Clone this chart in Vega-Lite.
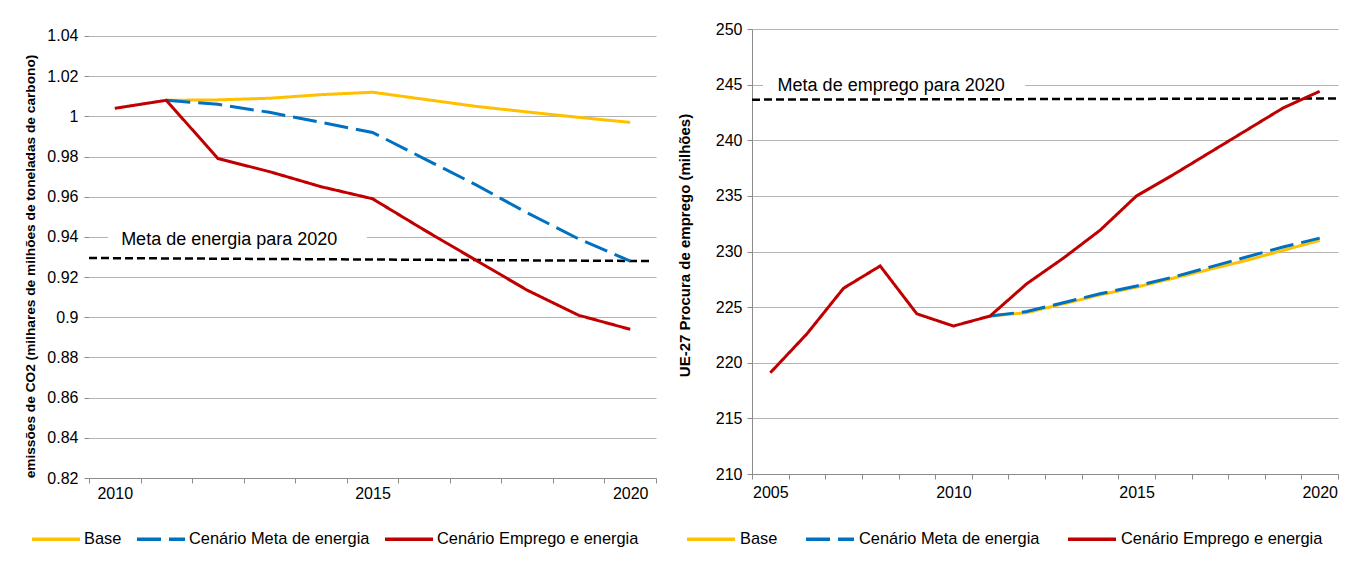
{
  "$schema": "https://vega.github.io/schema/vega-lite/v6.json",
  "background": "white",
  "padding": {"left": 22, "top": 21, "right": 5, "bottom": 5},
  "bounds": "flush",
  "spacing": 96,
  "resolve": {
    "scale": {"color": "independent", "strokeDash": "independent"},
    "legend": {"color": "independent", "strokeDash": "independent"}
  },
  "config": {
    "font": "Liberation Sans",
    "view": {"stroke": null},
    "axis": {
      "labelFont": "Liberation Sans",
      "labelFontSize": 16,
      "labelColor": "#000000",
      "gridColor": "#b3b3b3",
      "gridWidth": 1,
      "domainColor": "#8c8c8c",
      "tickColor": "#8c8c8c",
      "tickSize": 5,
      "titleFont": "Liberation Sans",
      "titleColor": "#000000",
      "labelOverlap": false
    },
    "axisX": {"labelOverlap": false, "labelFlush": false},
    "legend": {
      "labelFont": "Liberation Sans",
      "labelFontSize": 16.4,
      "labelColor": "#000000",
      "labelLimit": 0,
      "padding": 0,
      "offset": 0
    }
  },
  "datasets": {
    "left": [
      {"year": 2011, "serie": "Base", "value": 1.008},
      {"year": 2012, "serie": "Base", "value": 1.0082},
      {"year": 2013, "serie": "Base", "value": 1.009},
      {"year": 2014, "serie": "Base", "value": 1.0108},
      {"year": 2015, "serie": "Base", "value": 1.012},
      {"year": 2016, "serie": "Base", "value": 1.0085},
      {"year": 2017, "serie": "Base", "value": 1.005},
      {"year": 2018, "serie": "Base", "value": 1.0022},
      {"year": 2019, "serie": "Base", "value": 0.9995},
      {"year": 2020, "serie": "Base", "value": 0.997},
      {"year": 2011, "serie": "Cenário Meta de energia", "value": 1.008},
      {"year": 2012, "serie": "Cenário Meta de energia", "value": 1.006},
      {"year": 2013, "serie": "Cenário Meta de energia", "value": 1.002},
      {"year": 2014, "serie": "Cenário Meta de energia", "value": 0.997},
      {"year": 2015, "serie": "Cenário Meta de energia", "value": 0.992},
      {"year": 2016, "serie": "Cenário Meta de energia", "value": 0.979},
      {"year": 2017, "serie": "Cenário Meta de energia", "value": 0.966},
      {"year": 2018, "serie": "Cenário Meta de energia", "value": 0.952},
      {"year": 2019, "serie": "Cenário Meta de energia", "value": 0.939},
      {"year": 2020, "serie": "Cenário Meta de energia", "value": 0.928},
      {"year": 2010, "serie": "Cenário Emprego e energia", "value": 1.004},
      {"year": 2011, "serie": "Cenário Emprego e energia", "value": 1.008},
      {"year": 2012, "serie": "Cenário Emprego e energia", "value": 0.979},
      {"year": 2013, "serie": "Cenário Emprego e energia", "value": 0.9725},
      {"year": 2014, "serie": "Cenário Emprego e energia", "value": 0.965},
      {"year": 2015, "serie": "Cenário Emprego e energia", "value": 0.959},
      {"year": 2016, "serie": "Cenário Emprego e energia", "value": 0.9435},
      {"year": 2017, "serie": "Cenário Emprego e energia", "value": 0.9285},
      {"year": 2018, "serie": "Cenário Emprego e energia", "value": 0.9135},
      {"year": 2019, "serie": "Cenário Emprego e energia", "value": 0.901},
      {"year": 2020, "serie": "Cenário Emprego e energia", "value": 0.894}
    ],
    "leftTarget": [
      {"year": 2009.5, "value": 0.9295},
      {"year": 2020.4, "value": 0.928}
    ],
    "right": [
      {"year": 2011, "serie": "Base", "value": 224.2},
      {"year": 2012, "serie": "Base", "value": 224.5},
      {"year": 2013, "serie": "Base", "value": 225.3},
      {"year": 2014, "serie": "Base", "value": 226.1},
      {"year": 2015, "serie": "Base", "value": 226.8},
      {"year": 2016, "serie": "Base", "value": 227.6},
      {"year": 2017, "serie": "Base", "value": 228.4},
      {"year": 2018, "serie": "Base", "value": 229.2},
      {"year": 2019, "serie": "Base", "value": 230.1},
      {"year": 2020, "serie": "Base", "value": 231.0},
      {"year": 2011, "serie": "Cenário Meta de energia", "value": 224.2},
      {"year": 2012, "serie": "Cenário Meta de energia", "value": 224.6},
      {"year": 2013, "serie": "Cenário Meta de energia", "value": 225.4},
      {"year": 2014, "serie": "Cenário Meta de energia", "value": 226.2},
      {"year": 2015, "serie": "Cenário Meta de energia", "value": 226.9},
      {"year": 2016, "serie": "Cenário Meta de energia", "value": 227.7},
      {"year": 2017, "serie": "Cenário Meta de energia", "value": 228.6},
      {"year": 2018, "serie": "Cenário Meta de energia", "value": 229.5},
      {"year": 2019, "serie": "Cenário Meta de energia", "value": 230.4},
      {"year": 2020, "serie": "Cenário Meta de energia", "value": 231.2},
      {"year": 2005, "serie": "Cenário Emprego e energia", "value": 219.1},
      {"year": 2006, "serie": "Cenário Emprego e energia", "value": 222.6},
      {"year": 2007, "serie": "Cenário Emprego e energia", "value": 226.7},
      {"year": 2008, "serie": "Cenário Emprego e energia", "value": 228.7},
      {"year": 2009, "serie": "Cenário Emprego e energia", "value": 224.4},
      {"year": 2010, "serie": "Cenário Emprego e energia", "value": 223.3},
      {"year": 2011, "serie": "Cenário Emprego e energia", "value": 224.2},
      {"year": 2012, "serie": "Cenário Emprego e energia", "value": 227.1},
      {"year": 2013, "serie": "Cenário Emprego e energia", "value": 229.4},
      {"year": 2014, "serie": "Cenário Emprego e energia", "value": 231.9},
      {"year": 2015, "serie": "Cenário Emprego e energia", "value": 235.0},
      {"year": 2016, "serie": "Cenário Emprego e energia", "value": 236.9},
      {"year": 2017, "serie": "Cenário Emprego e energia", "value": 238.9},
      {"year": 2018, "serie": "Cenário Emprego e energia", "value": 240.9},
      {"year": 2019, "serie": "Cenário Emprego e energia", "value": 242.9},
      {"year": 2020, "serie": "Cenário Emprego e energia", "value": 244.4}
    ],
    "rightTarget": [
      {"year": 2004.5, "value": 243.65},
      {"year": 2020.45, "value": 243.75}
    ]
  },
  "hconcat": [
    {
      "width": 567,
      "height": 449,
      "layer": [
        {
          "data": {"name": "leftTarget"},
          "mark": {"type": "line", "color": "#000000", "strokeDash": [8, 4], "strokeWidth": 2.5},
          "encoding": {
            "x": {"field": "year", "type": "quantitative"},
            "y": {"field": "value", "type": "quantitative"}
          }
        },
        {
          "data": {"name": "left"},
          "mark": {"type": "line", "strokeWidth": 3},
          "encoding": {
            "x": {
              "field": "year", "type": "quantitative",
              "scale": {"domain": [2009.5, 2020.5], "nice": false, "zero": false},
              "axis": {
                "title": null, "grid": false, "tickCount": 30,
                "values": [2009.5, 2010.5, 2011.5, 2012.5, 2013.5, 2014.5, 2015.5, 2016.5, 2017.5, 2018.5, 2019.5, 2020.5],
                "labelExpr": "datum.value == 2009.5 ? '2010' : datum.value == 2014.5 ? '2015' : datum.value == 2019.5 ? '2020' : ''",
                "labelOffset": 25.77, "labelFlush": false, "labelOverlap": false, "labelPadding": 2
              }
            },
            "y": {
              "field": "value", "type": "quantitative",
              "scale": {"domain": [0.82, 1.04348], "nice": false, "zero": false},
              "axis": {
                "values": [0.82, 0.84, 0.86, 0.88, 0.9, 0.92, 0.94, 0.96, 0.98, 1, 1.02, 1.04],
                "tickCount": 30,
                "format": ".2~f", "grid": true, "domain": false, "labelPadding": 6,
                "title": "emissões de CO2 (milhares de milhões de toneladas de carbono)",
                "titleFontSize": 13.7, "titleFontWeight": "bold",
                "titleX": -59, "titleY": 237, "titleAngle": 270, "titleBaseline": "middle", "titleAlign": "center"
              }
            },
            "color": {
              "field": "serie", "type": "nominal",
              "scale": {"domain": ["Base", "Cenário Meta de energia", "Cenário Emprego e energia"], "range": ["#ffc000", "#0070c0", "#c00000"]},
              "legend": {"orient": "none", "legendX": -59, "legendY": 484, "direction": "horizontal", "title": null, "symbolType": "stroke", "symbolSize": 2304, "symbolStrokeWidth": 3.5, "columnPadding": 8, "labelOffset": 2, "labelLimit": 0}
            },
            "strokeDash": {
              "field": "serie", "type": "nominal",
              "scale": {"domain": ["Base", "Cenário Meta de energia", "Cenário Emprego e energia"], "range": [[1, 0], [24, 8], [1, 0]]},
              "legend": {"orient": "none", "legendX": -59, "legendY": 484, "direction": "horizontal", "title": null, "symbolType": "stroke", "symbolSize": 2304, "symbolStrokeWidth": 3.5, "columnPadding": 8, "labelOffset": 2, "labelLimit": 0}
            }
          }
        },
        {
          "mark": {"type": "rule", "color": "#8c8c8c", "strokeWidth": 1},
          "encoding": {
            "x": {"datum": 2009.5, "type": "quantitative"},
            "y": {"datum": 0.82, "type": "quantitative"},
            "y2": {"datum": 1.04}
          }
        },
        {
          "data": {"values": [{}]},
          "mark": {"type": "rect", "color": "white"},
          "encoding": {
            "x": {"datum": 2009.87, "type": "quantitative"},
            "x2": {"datum": 2014.89},
            "y": {"datum": 0.9375, "type": "quantitative"},
            "y2": {"datum": 0.9425}
          }
        },
        {
          "data": {"values": [{}]},
          "mark": {"type": "text", "fontSize": 18, "font": "Liberation Sans", "color": "#000000", "align": "center", "baseline": "middle"},
          "encoding": {
            "x": {"datum": 2012.22, "type": "quantitative"},
            "y": {"datum": 0.9387, "type": "quantitative"},
            "text": {"value": "Meta de energia para 2020"}
          }
        }
      ]
    },
    {
      "width": 586,
      "height": 445,
      "layer": [
        {
          "data": {"name": "rightTarget"},
          "mark": {"type": "line", "color": "#000000", "strokeDash": [8, 4], "strokeWidth": 2.5},
          "encoding": {
            "x": {"field": "year", "type": "quantitative"},
            "y": {"field": "value", "type": "quantitative"}
          }
        },
        {
          "data": {"name": "right"},
          "mark": {"type": "line", "strokeWidth": 3},
          "encoding": {
            "x": {
              "field": "year", "type": "quantitative",
              "scale": {"domain": [2004.5, 2020.5], "nice": false, "zero": false},
              "axis": {
                "title": null, "grid": false, "tickCount": 40,
                "values": [2004.5, 2005.5, 2006.5, 2007.5, 2008.5, 2009.5, 2010.5, 2011.5, 2012.5, 2013.5, 2014.5, 2015.5, 2016.5, 2017.5, 2018.5, 2019.5, 2020.5],
                "labelExpr": "datum.value == 2004.5 ? '2005' : datum.value == 2009.5 ? '2010' : datum.value == 2014.5 ? '2015' : datum.value == 2019.5 ? '2020' : ''",
                "labelOffset": 18.31, "labelFlush": false, "labelOverlap": false, "labelPadding": 5
              }
            },
            "y": {
              "field": "value", "type": "quantitative",
              "scale": {"domain": [210, 250], "nice": false, "zero": false},
              "axis": {
                "values": [210, 215, 220, 225, 230, 235, 240, 245, 250],
                "tickCount": 30,
                "grid": true, "domain": true, "labelPadding": 5,
                "title": "UE-27 Procura de emprego (milhões)",
                "titleFontSize": 15, "titleFontWeight": "bold",
                "titleX": -68, "titleY": 216, "titleAngle": 270, "titleBaseline": "middle", "titleAlign": "center"
              }
            },
            "color": {
              "field": "serie", "type": "nominal",
              "scale": {"domain": ["Base", "Cenário Meta de energia", "Cenário Emprego e energia"], "range": ["#ffc000", "#0070c0", "#c00000"]},
              "legend": {"orient": "none", "legendX": -67, "legendY": 484, "direction": "horizontal", "title": null, "symbolType": "stroke", "symbolSize": 2304, "symbolStrokeWidth": 3.5, "columnPadding": 21, "labelOffset": 3, "labelLimit": 0}
            },
            "strokeDash": {
              "field": "serie", "type": "nominal",
              "scale": {"domain": ["Base", "Cenário Meta de energia", "Cenário Emprego e energia"], "range": [[1, 0], [24, 8], [1, 0]]},
              "legend": {"orient": "none", "legendX": -67, "legendY": 484, "direction": "horizontal", "title": null, "symbolType": "stroke", "symbolSize": 2304, "symbolStrokeWidth": 3.5, "columnPadding": 21, "labelOffset": 3, "labelLimit": 0}
            }
          }
        },
        {
          "data": {"values": [{}]},
          "mark": {"type": "rect", "color": "white"},
          "encoding": {
            "x": {"datum": 2004.8, "type": "quantitative"},
            "x2": {"datum": 2011.96},
            "y": {"datum": 244.7, "type": "quantitative"},
            "y2": {"datum": 245.3}
          }
        },
        {
          "data": {"values": [{}]},
          "mark": {"type": "text", "fontSize": 18, "font": "Liberation Sans", "color": "#000000", "align": "center", "baseline": "middle"},
          "encoding": {
            "x": {"datum": 2008.3, "type": "quantitative"},
            "y": {"datum": 244.88, "type": "quantitative"},
            "text": {"value": "Meta de emprego para 2020"}
          }
        }
      ]
    }
  ]
}
